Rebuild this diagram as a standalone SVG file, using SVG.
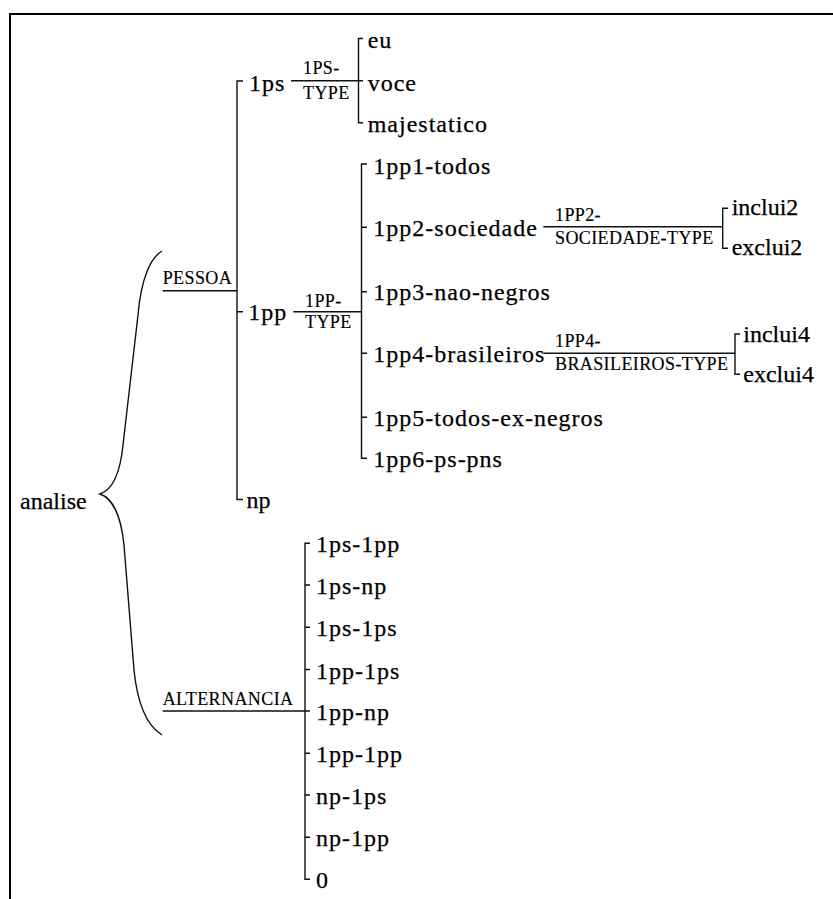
<svg xmlns="http://www.w3.org/2000/svg" width="833" height="899" viewBox="0 0 833 899">
<style>
.t{font-family:"Liberation Serif","Times New Roman",serif;font-size:24px;fill:#000;stroke:#000;stroke-width:0.25;letter-spacing:1px}
.n{letter-spacing:0}
.s{font-size:18px;letter-spacing:0.4px;stroke-width:0.15}
.c{fill:none;stroke:#111;stroke-width:1.4}
.b{fill:none;stroke:#000;stroke-width:2}
</style>
<rect width="833" height="899" fill="#fff"/>
<path class="b" d="M10,899 V14 H833"/>
<g id="connectors">
<path class="c" d="M162,251 C150,258 141,280 138,315 L123,445 C120,475 112,490 100,494 C112,498 121,515 124,545 L134,670 C137,700 146,725 162,735"/>
<path class="c" d="M162.7,290.7 H237 M243,81 H237 V499.5 H243 M237,311.7 H243"/>
<path class="c" d="M291,80.7 H363 M363,38.5 H358.5 V122.7 H363"/>
<path class="c" d="M293.3,311.7 H361.5 M367,164 H361.5 V458.3 H367 M361.5,227.3 H367 M361.5,291.7 H367 M361.5,353.3 H367 M361.5,417.3 H367"/>
<path class="c" d="M543.3,226.7 H722.7 M728,208.3 H722.7 V248.3 H728"/>
<path class="c" d="M543.3,353.3 H735 M740,334 H735 V374.3 H740"/>
<path class="c" d="M162.7,711 H310 M310,543.3 H305 V879.3 H310 M305,585 H310 M305,627.3 H310 M305,669.5 H310 M305,753.3 H310 M305,795 H310 M305,837.3 H310"/>
</g>
<g id="analise"><text class="t n" x="20" y="509">analise</text></g>
<g id="pessoa"><text class="t s" x="162.7" y="284.3">PESSOA</text></g>
<g id="alternancia"><text class="t s" x="162.7" y="705">ALTERNANCIA</text></g>
<g id="n1ps"><text class="t" x="249" y="90.7">1ps</text></g>
<g id="n1pp"><text class="t" x="248.3" y="320">1pp</text></g>
<g id="np"><text class="t n" x="246.5" y="508.3">np</text></g>
<g id="lbl-1ps-type"><text class="t s" x="303" y="74">1PS-</text><text class="t s" x="303" y="98.5">TYPE</text></g>
<g id="lbl-1pp-type"><text class="t s" x="305" y="306.7">1PP-</text><text class="t s" x="305" y="328">TYPE</text></g>
<g id="eu"><text class="t" x="367.7" y="48">eu</text></g>
<g id="voce"><text class="t" x="367.7" y="90.5">voce</text></g>
<g id="majestatico"><text class="t" x="367.7" y="132">majestatico</text></g>
<g id="p1"><text class="t" x="373.3" y="173.5">1pp1-todos</text></g>
<g id="p2"><text class="t" x="373.3" y="236">1pp2-sociedade</text></g>
<g id="p3"><text class="t" x="373.3" y="300">1pp3-nao-negros</text></g>
<g id="p4"><text class="t" x="373.3" y="361.7">1pp4-brasileiros</text></g>
<g id="p5"><text class="t" x="373.3" y="426">1pp5-todos-ex-negros</text></g>
<g id="p6"><text class="t" x="373.3" y="466.7">1pp6-ps-pns</text></g>
<g id="lbl-1pp2-type"><text class="t s" x="555" y="220.7">1PP2-</text><text class="t s" x="555" y="244">SOCIEDADE-TYPE</text></g>
<g id="lbl-1pp4-type"><text class="t s" x="555" y="346.7">1PP4-</text><text class="t s" x="555" y="370">BRASILEIROS-TYPE</text></g>
<g id="inclui2"><text class="t n" x="731.7" y="215">inclui2</text></g>
<g id="exclui2"><text class="t n" x="731.7" y="255">exclui2</text></g>
<g id="inclui4"><text class="t n" x="743.3" y="341.7">inclui4</text></g>
<g id="exclui4"><text class="t n" x="743.3" y="381.7">exclui4</text></g>
<g id="a1"><text class="t" x="316" y="552.3">1ps-1pp</text></g>
<g id="a2"><text class="t" x="316" y="594">1ps-np</text></g>
<g id="a3"><text class="t" x="316" y="636.3">1ps-1ps</text></g>
<g id="a4"><text class="t" x="316" y="678.5">1pp-1ps</text></g>
<g id="a5"><text class="t" x="316" y="720">1pp-np</text></g>
<g id="a6"><text class="t" x="316" y="762.3">1pp-1pp</text></g>
<g id="a7"><text class="t" x="316" y="804">np-1ps</text></g>
<g id="a8"><text class="t" x="316" y="846.3">np-1pp</text></g>
<g id="a9"><text class="t" x="316" y="888.3">0</text></g>
</svg>
